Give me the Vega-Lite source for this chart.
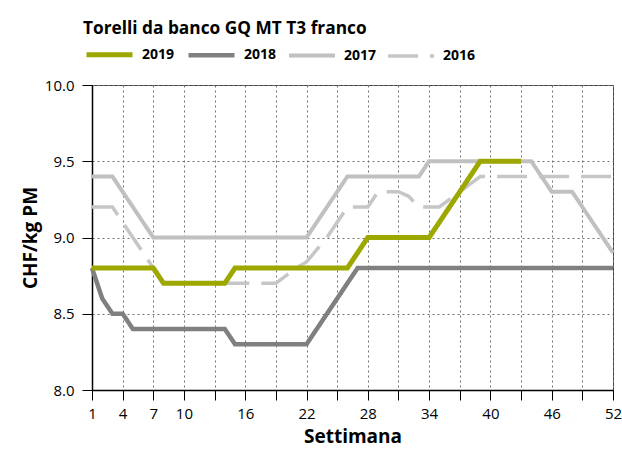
{
  "$schema": "https://vega.github.io/schema/vega-lite/v6.json",
  "width": 521,
  "height": 305,
  "autosize": "none",
  "padding": {"left": 92, "top": 85, "right": 9, "bottom": 68},
  "background": "white",
  "config": {
    "font": "Open Sans",
    "view": {"stroke": "#404040", "strokeWidth": 1}
  },
  "title": {
    "text": "Torelli da banco GQ MT T3 franco",
    "anchor": "start",
    "frame": "group",
    "orient": "top",
    "dx": -9,
    "offset": -22,
    "baseline": "alphabetic",
    "font": "Open Sans",
    "fontSize": 17.3,
    "fontWeight": "bold",
    "color": "#000000"
  },
  "data": {
    "values": [
      {"year": "2016", "week": 1, "price": 9.2},
      {"year": "2016", "week": 2, "price": 9.2},
      {"year": "2016", "week": 3, "price": 9.2},
      {"year": "2016", "week": 4, "price": 9.1},
      {"year": "2016", "week": 5, "price": 9.0},
      {"year": "2016", "week": 6, "price": 8.9},
      {"year": "2016", "week": 7, "price": 8.8},
      {"year": "2016", "week": 8, "price": 8.7},
      {"year": "2016", "week": 9, "price": 8.7},
      {"year": "2016", "week": 10, "price": 8.7},
      {"year": "2016", "week": 11, "price": 8.7},
      {"year": "2016", "week": 12, "price": 8.7},
      {"year": "2016", "week": 13, "price": 8.7},
      {"year": "2016", "week": 14, "price": 8.7},
      {"year": "2016", "week": 15, "price": 8.7},
      {"year": "2016", "week": 16, "price": 8.7},
      {"year": "2016", "week": 17, "price": 8.7},
      {"year": "2016", "week": 18, "price": 8.7},
      {"year": "2016", "week": 19, "price": 8.7},
      {"year": "2016", "week": 20, "price": 8.75},
      {"year": "2016", "week": 21, "price": 8.8},
      {"year": "2016", "week": 22, "price": 8.84},
      {"year": "2016", "week": 23, "price": 8.92},
      {"year": "2016", "week": 24, "price": 9.0},
      {"year": "2016", "week": 25, "price": 9.1},
      {"year": "2016", "week": 26, "price": 9.2},
      {"year": "2016", "week": 27, "price": 9.2},
      {"year": "2016", "week": 28, "price": 9.2},
      {"year": "2016", "week": 29, "price": 9.3},
      {"year": "2016", "week": 30, "price": 9.3},
      {"year": "2016", "week": 31, "price": 9.3},
      {"year": "2016", "week": 32, "price": 9.27},
      {"year": "2016", "week": 33, "price": 9.2},
      {"year": "2016", "week": 34, "price": 9.2},
      {"year": "2016", "week": 35, "price": 9.2},
      {"year": "2016", "week": 36, "price": 9.25},
      {"year": "2016", "week": 37, "price": 9.3},
      {"year": "2016", "week": 38, "price": 9.35},
      {"year": "2016", "week": 39, "price": 9.4},
      {"year": "2016", "week": 40, "price": 9.4},
      {"year": "2016", "week": 41, "price": 9.4},
      {"year": "2016", "week": 42, "price": 9.4},
      {"year": "2016", "week": 43, "price": 9.4},
      {"year": "2016", "week": 44, "price": 9.4},
      {"year": "2016", "week": 45, "price": 9.4},
      {"year": "2016", "week": 46, "price": 9.4},
      {"year": "2016", "week": 47, "price": 9.4},
      {"year": "2016", "week": 48, "price": 9.4},
      {"year": "2016", "week": 49, "price": 9.4},
      {"year": "2016", "week": 50, "price": 9.4},
      {"year": "2016", "week": 51, "price": 9.4},
      {"year": "2016", "week": 52, "price": 9.4},
      {"year": "2017", "week": 1, "price": 9.4},
      {"year": "2017", "week": 2, "price": 9.4},
      {"year": "2017", "week": 3, "price": 9.4},
      {"year": "2017", "week": 4, "price": 9.3},
      {"year": "2017", "week": 5, "price": 9.2},
      {"year": "2017", "week": 6, "price": 9.1},
      {"year": "2017", "week": 7, "price": 9.0},
      {"year": "2017", "week": 8, "price": 9.0},
      {"year": "2017", "week": 9, "price": 9.0},
      {"year": "2017", "week": 10, "price": 9.0},
      {"year": "2017", "week": 11, "price": 9.0},
      {"year": "2017", "week": 12, "price": 9.0},
      {"year": "2017", "week": 13, "price": 9.0},
      {"year": "2017", "week": 14, "price": 9.0},
      {"year": "2017", "week": 15, "price": 9.0},
      {"year": "2017", "week": 16, "price": 9.0},
      {"year": "2017", "week": 17, "price": 9.0},
      {"year": "2017", "week": 18, "price": 9.0},
      {"year": "2017", "week": 19, "price": 9.0},
      {"year": "2017", "week": 20, "price": 9.0},
      {"year": "2017", "week": 21, "price": 9.0},
      {"year": "2017", "week": 22, "price": 9.0},
      {"year": "2017", "week": 23, "price": 9.1},
      {"year": "2017", "week": 24, "price": 9.2},
      {"year": "2017", "week": 25, "price": 9.3},
      {"year": "2017", "week": 26, "price": 9.4},
      {"year": "2017", "week": 27, "price": 9.4},
      {"year": "2017", "week": 28, "price": 9.4},
      {"year": "2017", "week": 29, "price": 9.4},
      {"year": "2017", "week": 30, "price": 9.4},
      {"year": "2017", "week": 31, "price": 9.4},
      {"year": "2017", "week": 32, "price": 9.4},
      {"year": "2017", "week": 33, "price": 9.4},
      {"year": "2017", "week": 34, "price": 9.5},
      {"year": "2017", "week": 35, "price": 9.5},
      {"year": "2017", "week": 36, "price": 9.5},
      {"year": "2017", "week": 37, "price": 9.5},
      {"year": "2017", "week": 38, "price": 9.5},
      {"year": "2017", "week": 39, "price": 9.5},
      {"year": "2017", "week": 40, "price": 9.5},
      {"year": "2017", "week": 41, "price": 9.5},
      {"year": "2017", "week": 42, "price": 9.5},
      {"year": "2017", "week": 43, "price": 9.5},
      {"year": "2017", "week": 44, "price": 9.5},
      {"year": "2017", "week": 45, "price": 9.4},
      {"year": "2017", "week": 46, "price": 9.3},
      {"year": "2017", "week": 47, "price": 9.3},
      {"year": "2017", "week": 48, "price": 9.3},
      {"year": "2017", "week": 49, "price": 9.2},
      {"year": "2017", "week": 50, "price": 9.1},
      {"year": "2017", "week": 51, "price": 9.0},
      {"year": "2017", "week": 52, "price": 8.9},
      {"year": "2018", "week": 1, "price": 8.8},
      {"year": "2018", "week": 2, "price": 8.6},
      {"year": "2018", "week": 3, "price": 8.5},
      {"year": "2018", "week": 4, "price": 8.5},
      {"year": "2018", "week": 5, "price": 8.4},
      {"year": "2018", "week": 6, "price": 8.4},
      {"year": "2018", "week": 7, "price": 8.4},
      {"year": "2018", "week": 8, "price": 8.4},
      {"year": "2018", "week": 9, "price": 8.4},
      {"year": "2018", "week": 10, "price": 8.4},
      {"year": "2018", "week": 11, "price": 8.4},
      {"year": "2018", "week": 12, "price": 8.4},
      {"year": "2018", "week": 13, "price": 8.4},
      {"year": "2018", "week": 14, "price": 8.4},
      {"year": "2018", "week": 15, "price": 8.3},
      {"year": "2018", "week": 16, "price": 8.3},
      {"year": "2018", "week": 17, "price": 8.3},
      {"year": "2018", "week": 18, "price": 8.3},
      {"year": "2018", "week": 19, "price": 8.3},
      {"year": "2018", "week": 20, "price": 8.3},
      {"year": "2018", "week": 21, "price": 8.3},
      {"year": "2018", "week": 22, "price": 8.3},
      {"year": "2018", "week": 23, "price": 8.4},
      {"year": "2018", "week": 24, "price": 8.5},
      {"year": "2018", "week": 25, "price": 8.6},
      {"year": "2018", "week": 26, "price": 8.7},
      {"year": "2018", "week": 27, "price": 8.8},
      {"year": "2018", "week": 28, "price": 8.8},
      {"year": "2018", "week": 29, "price": 8.8},
      {"year": "2018", "week": 30, "price": 8.8},
      {"year": "2018", "week": 31, "price": 8.8},
      {"year": "2018", "week": 32, "price": 8.8},
      {"year": "2018", "week": 33, "price": 8.8},
      {"year": "2018", "week": 34, "price": 8.8},
      {"year": "2018", "week": 35, "price": 8.8},
      {"year": "2018", "week": 36, "price": 8.8},
      {"year": "2018", "week": 37, "price": 8.8},
      {"year": "2018", "week": 38, "price": 8.8},
      {"year": "2018", "week": 39, "price": 8.8},
      {"year": "2018", "week": 40, "price": 8.8},
      {"year": "2018", "week": 41, "price": 8.8},
      {"year": "2018", "week": 42, "price": 8.8},
      {"year": "2018", "week": 43, "price": 8.8},
      {"year": "2018", "week": 44, "price": 8.8},
      {"year": "2018", "week": 45, "price": 8.8},
      {"year": "2018", "week": 46, "price": 8.8},
      {"year": "2018", "week": 47, "price": 8.8},
      {"year": "2018", "week": 48, "price": 8.8},
      {"year": "2018", "week": 49, "price": 8.8},
      {"year": "2018", "week": 50, "price": 8.8},
      {"year": "2018", "week": 51, "price": 8.8},
      {"year": "2018", "week": 52, "price": 8.8},
      {"year": "2019", "week": 1, "price": 8.8},
      {"year": "2019", "week": 2, "price": 8.8},
      {"year": "2019", "week": 3, "price": 8.8},
      {"year": "2019", "week": 4, "price": 8.8},
      {"year": "2019", "week": 5, "price": 8.8},
      {"year": "2019", "week": 6, "price": 8.8},
      {"year": "2019", "week": 7, "price": 8.8},
      {"year": "2019", "week": 8, "price": 8.7},
      {"year": "2019", "week": 9, "price": 8.7},
      {"year": "2019", "week": 10, "price": 8.7},
      {"year": "2019", "week": 11, "price": 8.7},
      {"year": "2019", "week": 12, "price": 8.7},
      {"year": "2019", "week": 13, "price": 8.7},
      {"year": "2019", "week": 14, "price": 8.7},
      {"year": "2019", "week": 15, "price": 8.8},
      {"year": "2019", "week": 16, "price": 8.8},
      {"year": "2019", "week": 17, "price": 8.8},
      {"year": "2019", "week": 18, "price": 8.8},
      {"year": "2019", "week": 19, "price": 8.8},
      {"year": "2019", "week": 20, "price": 8.8},
      {"year": "2019", "week": 21, "price": 8.8},
      {"year": "2019", "week": 22, "price": 8.8},
      {"year": "2019", "week": 23, "price": 8.8},
      {"year": "2019", "week": 24, "price": 8.8},
      {"year": "2019", "week": 25, "price": 8.8},
      {"year": "2019", "week": 26, "price": 8.8},
      {"year": "2019", "week": 27, "price": 8.9},
      {"year": "2019", "week": 28, "price": 9.0},
      {"year": "2019", "week": 29, "price": 9.0},
      {"year": "2019", "week": 30, "price": 9.0},
      {"year": "2019", "week": 31, "price": 9.0},
      {"year": "2019", "week": 32, "price": 9.0},
      {"year": "2019", "week": 33, "price": 9.0},
      {"year": "2019", "week": 34, "price": 9.0},
      {"year": "2019", "week": 35, "price": 9.1},
      {"year": "2019", "week": 36, "price": 9.2},
      {"year": "2019", "week": 37, "price": 9.3},
      {"year": "2019", "week": 38, "price": 9.4},
      {"year": "2019", "week": 39, "price": 9.5},
      {"year": "2019", "week": 40, "price": 9.5},
      {"year": "2019", "week": 41, "price": 9.5},
      {"year": "2019", "week": 42, "price": 9.5},
      {"year": "2019", "week": 43, "price": 9.5}
    ]
  },
  "mark": {"type": "line", "strokeJoin": "miter", "strokeCap": "butt"},
  "encoding": {
    "x": {
      "field": "week",
      "type": "quantitative",
      "scale": {"domain": [1, 52], "nice": false, "zero": false},
      "axis": {
        "values": [1, 4, 7, 10, 13, 16, 19, 22, 25, 28, 31, 34, 37, 40, 43, 46, 49, 52],
        "labelExpr": "indexof([13,19,25,31,37,43,49], datum.value) >= 0 ? '' : datum.label",
        "title": "Settimana",
        "titleFont": "Open Sans",
        "titleFontSize": 19,
        "titleFontWeight": "bold",
        "titleColor": "#000000",
        "titlePadding": 6,
        "labelFont": "Open Sans",
        "labelFontSize": 15,
        "labelColor": "#000000",
        "labelPadding": 6,
        "labelFlush": false,
        "labelOverlap": false,
        "tickSize": 10,
        "tickColor": "#000000",
        "domainColor": "#000000",
        "domainWidth": 1.5,
        "grid": true,
        "gridDash": [2, 3],
        "gridColor": "#707070",
        "gridWidth": 1
      }
    },
    "y": {
      "field": "price",
      "type": "quantitative",
      "scale": {"domain": [8, 10], "nice": false, "zero": false},
      "axis": {
        "values": [8, 8.5, 9, 9.5, 10],
        "format": ".1f",
        "title": "CHF/kg PM",
        "titleFont": "Open Sans",
        "titleFontSize": 19,
        "titleFontWeight": "bold",
        "titleColor": "#000000",
        "titlePadding": 4,
        "labelFont": "Open Sans",
        "labelFontSize": 15,
        "labelColor": "#000000",
        "labelPadding": 8,
        "labelFlush": false,
        "tickSize": 10,
        "tickColor": "#000000",
        "domainColor": "#000000",
        "domainWidth": 1.5,
        "grid": true,
        "gridDash": [2, 3],
        "gridColor": "#707070",
        "gridWidth": 1
      }
    },
    "color": {
      "field": "year",
      "type": "nominal",
      "scale": {
        "domain": ["2019", "2018", "2017", "2016"],
        "range": ["#9ca800", "#808080", "#c0c0c0", "#c6c6c6"]
      },
      "legend": {
        "orient": "none",
        "legendX": -8,
        "legendY": -56,
        "direction": "horizontal",
        "title": null,
        "padding": 0,
        "symbolType": "stroke",
        "symbolSize": 2116,
        "symbolStrokeWidth": 5,
        "labelFont": "Open Sans",
        "labelFontSize": 14,
        "labelFontWeight": "bold",
        "labelColor": "#000000",
        "labelOffset": 7,
        "columnPadding": 4,
        "encode": {
          "symbols": {
            "update": {
              "strokeDash": {"signal": "datum.value == '2016' ? [10, 14] : [1, 0]"}
            }
          }
        }
      }
    },
    "strokeWidth": {
      "field": "year",
      "type": "nominal",
      "scale": {"domain": ["2019", "2018", "2017", "2016"], "range": [5, 3.5, 3.5, 3.5]},
      "legend": null
    },
    "strokeDash": {
      "field": "year",
      "type": "nominal",
      "scale": {"domain": ["2019", "2018", "2017", "2016"], "range": [[1, 0], [1, 0], [1, 0], [30, 12]]},
      "legend": null
    }
  }
}
